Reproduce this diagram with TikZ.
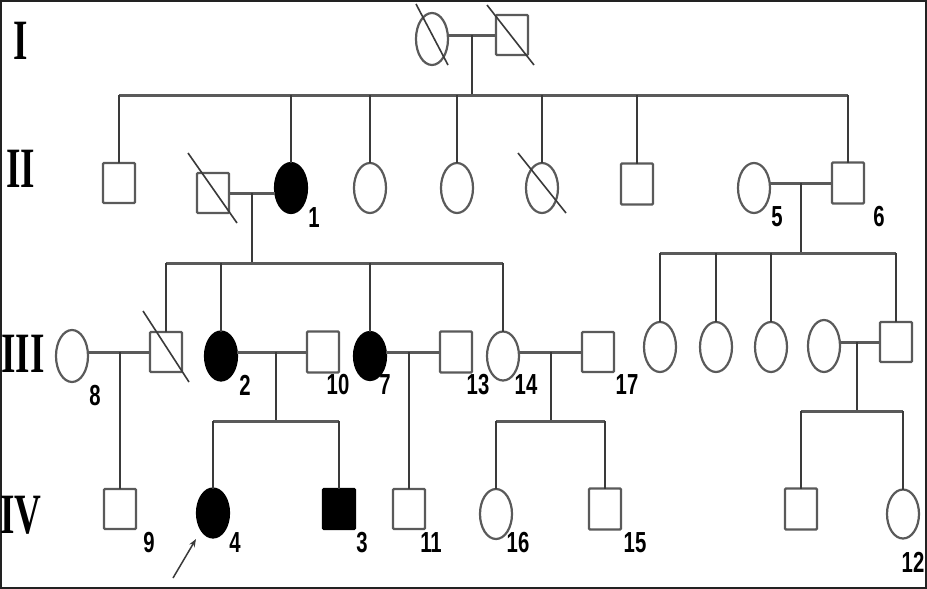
\documentclass[tikz,border=0pt]{standalone}
\usepackage{fontspec}
\usetikzlibrary{shapes.geometric,calc,arrows.meta}
\newfontfamily\lblfont{Liberation Sans}
\newfontfamily\romfont{Liberation Serif}
\definecolor{ln}{HTML}{3A3A3A}
\definecolor{lnl}{HTML}{5A5A5A}
\definecolor{frm}{HTML}{222222}
\newcommand\narrowtxt[2][0.7]{\scalebox{#1}[1]{#2}}
\tikzset{
  x=1pt, y=-1pt,
  person/.style={draw=lnl, line width=2.2pt, inner sep=0pt, outer sep=0pt},
  male/.style={person, rectangle, rounded corners=1pt, minimum width=32pt, minimum height=40pt},
  female/.style={person, ellipse, minimum width=32pt, minimum height=50pt},
  affected/.style={fill=black, draw=black},
  slash/.style={draw=ln, line width=1.6pt},
  mate/.style={draw=lnl, line width=3pt},
  sib/.style={draw=lnl, line width=3pt},
  drop/.style={draw=ln, line width=1.9pt},
  lbl/.style={font=\lblfont\bfseries\fontsize{29}{29}\selectfont, inner sep=0pt},
  gen/.style={font=\romfont\bfseries\fontsize{57}{57}\selectfont, inner sep=0pt},
}
\begin{document}
\begin{tikzpicture}
\useasboundingbox (0,0) rectangle (927,589);
\fill[white] (0,0) rectangle (927,589);
\draw[frm, line width=2pt] (1,1) rectangle (926,588);

% generation labels
\node[gen] (gI) at (21,41) {\narrowtxt[0.65]{I}};
\node[gen] (gII) at (21,169) {\narrowtxt[0.65]{II}};
\node[gen] (gIII) at (23,354) {\narrowtxt[0.65]{III}};
\node[gen] (gIV) at (21,515) {\narrowtxt[0.65]{IV}};

% Generation I
\node[female, minimum height=52pt] (I1) at (432,39) {};
\node[male] (I2) at (512,35) {};
\draw[slash] ($(I1)+(-16,-35)$) -- ($(I1)+(16,26)$);
\draw[slash] ($(I2)+(-25,-30)$) -- ($(I2)+(22,30)$);
\coordinate (mI) at (472,35);
\coordinate (sII) at (472,95);

% Generation II
\node[male] (II1) at (119,183) {};
\node[male] (II2) at (213,193) {};
\node[female, affected] (II3) at (291,188) {};
\node[female] (II4) at (370,188) {};
\node[female] (II5) at (457,188) {};
\node[female] (II6) at (542,188) {};
\node[male, minimum height=41pt] (II7) at (637,184) {};
\node[female] (II8) at (754,188) {};
\node[male, minimum height=41pt] (II9) at (848,183) {};
\draw[slash] ($(II2)+(-25,-40)$) -- ($(II2)+(24,30)$);
\draw[slash] ($(II6)+(-24,-35)$) -- ($(II6)+(24,25)$);
\node[lbl] (l1) at (314,218) {\narrowtxt{1}};
\node[lbl] (l5) at (777,217) {\narrowtxt{5}};
\node[lbl] (l6) at (879,217) {\narrowtxt{6}};
\coordinate (mII) at (252,193);
\coordinate (sIIIa) at (252,263);
\coordinate (mII2) at (801,183);
\coordinate (sIIIb) at (801,253);

% Generation III
\node[female, minimum height=52pt] (III1) at (72,356) {};
\node[male] (III2) at (166,352) {};
\node[female, affected, minimum height=49pt] (III3) at (221,356) {};
\node[male, minimum height=41pt] (III4) at (323,352) {};
\node[female, affected, minimum height=48pt] (III5) at (370,356) {};
\node[male, minimum height=41pt] (III6) at (456,352) {};
\node[female, minimum height=49pt] (III7) at (503,356) {};
\node[male] (III8) at (598,352) {};
\node[female] (III9) at (660,347) {};
\node[female] (III10) at (716,347) {};
\node[female] (III11) at (771,347) {};
\node[female, minimum height=52pt] (III12) at (824,346) {};
\node[male] (III13) at (896,342) {};
\draw[slash] ($(III2)+(-23,-41)$) -- ($(III2)+(23,30)$);
\node[lbl] (l8) at (95,396) {\narrowtxt{8}};
\node[lbl] (l2) at (245,385) {\narrowtxt{2}};
\node[lbl] (l10) at (338,385) {\narrowtxt{10}};
\node[lbl] (l7) at (385,385) {\narrowtxt{7}};
\node[lbl] (l13) at (478,385) {\narrowtxt{13}};
\node[lbl] (l14) at (526,385) {\narrowtxt{14}};
\node[lbl] (l17) at (627,385) {\narrowtxt{17}};
\coordinate (mIIIa) at (120,352);
\coordinate (mIIIb) at (276,352);
\coordinate (sIVa) at (276,421);
\coordinate (mIIIc) at (409,352);
\coordinate (mIIId) at (551,352);
\coordinate (sIVb) at (551,421);
\coordinate (mIIIe) at (857,342);
\coordinate (sIVc) at (857,411);

% Generation IV
\node[male] (IV1) at (120,509) {};
\node[female, affected, minimum height=49pt] (IV2) at (213,513) {};
\node[male, affected] (IV3) at (339,509) {};
\node[male] (IV4) at (409,509) {};
\node[female] (IV5) at (496,514) {};
\node[male, minimum height=41pt] (IV6) at (605,509) {};
\node[male, minimum height=41pt] (IV7) at (801,509) {};
\node[female, minimum height=49pt] (IV8) at (903,514) {};
\node[lbl] (l9) at (149,543) {\narrowtxt{9}};
\node[lbl] (l4) at (235,543) {\narrowtxt{4}};
\node[lbl] (l3) at (362,543) {\narrowtxt{3}};
\node[lbl] (l11) at (431,543) {\narrowtxt{11}};
\node[lbl] (l16) at (518,543) {\narrowtxt{16}};
\node[lbl] (l15) at (635,543) {\narrowtxt{15}};
\node[lbl] (l12) at (913,562) {\narrowtxt{12}};
\coordinate (arrS) at (173,578);
\coordinate (arrE) at (196,539);
\draw[ln, line width=1.5pt, -{Stealth[length=8pt,width=6pt]}] (arrS) -- (arrE);

% ---- connectors ----
% I
\draw[mate] (I1.east |- mI) -- (I2.west |- mI);
\draw[drop] (mI) -- (sII);
\draw[sib] (II1.north |- sII) -- (II9.north |- sII);
\foreach \c in {II1,II3,II4,II5,II6,II7,II9}
  \draw[drop] (\c.north) -- (\c.north |- sII);
% II couples
\draw[mate] (II2.east |- mII) -- (II3.west |- mII);
\draw[drop] (mII) -- (sIIIa);
\draw[sib] (III2.north |- sIIIa) -- (III7.north |- sIIIa);
\foreach \c in {III2,III3,III5,III7}
  \draw[drop] (\c.north) -- (\c.north |- sIIIa);
\draw[mate] (II8.east |- mII2) -- (II9.west |- mII2);
\draw[drop] (mII2) -- (sIIIb);
\draw[sib] (III9.north |- sIIIb) -- (III13.north |- sIIIb);
\foreach \c in {III9,III10,III11,III13}
  \draw[drop] (\c.north) -- (\c.north |- sIIIb);
% III couples
\draw[mate] (III1.east |- mIIIa) -- (III2.west |- mIIIa);
\draw[drop] (mIIIa) -- (IV1.north);
\draw[mate] (III3.east |- mIIIb) -- (III4.west |- mIIIb);
\draw[drop] (mIIIb) -- (sIVa);
\draw[sib] (IV2.north |- sIVa) -- (IV3.north |- sIVa);
\foreach \c in {IV2,IV3}
  \draw[drop] (\c.north) -- (\c.north |- sIVa);
\draw[mate] (III5.east |- mIIIc) -- (III6.west |- mIIIc);
\draw[drop] (mIIIc) -- (IV4.north);
\draw[mate] (III7.east |- mIIId) -- (III8.west |- mIIId);
\draw[drop] (mIIId) -- (sIVb);
\draw[sib] (IV5.north |- sIVb) -- (IV6.north |- sIVb);
\foreach \c in {IV5,IV6}
  \draw[drop] (\c.north) -- (\c.north |- sIVb);
\draw[mate] (III12.east |- mIIIe) -- (III13.west |- mIIIe);
\draw[drop] (mIIIe) -- (sIVc);
\draw[sib] (IV7.north |- sIVc) -- (IV8.north |- sIVc);
\foreach \c in {IV7,IV8}
  \draw[drop] (\c.north) -- (\c.north |- sIVc);
\end{tikzpicture}
\end{document}
